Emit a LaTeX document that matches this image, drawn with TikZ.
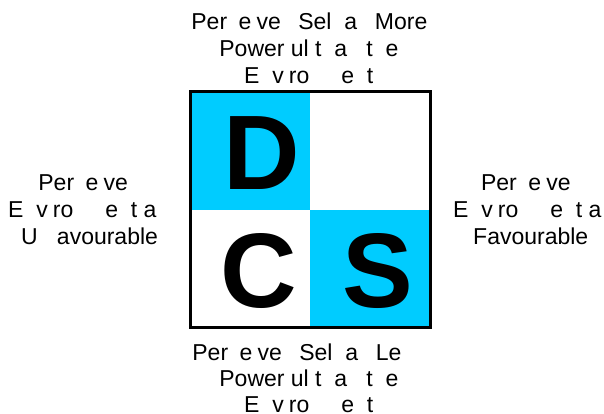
\documentclass[tikz,border=0pt]{standalone}
\usepackage{fontspec}
\setmainfont{Liberation Sans}
\newcommand\gp[1]{\phantom{#1}}
\definecolor{dcyan}{RGB}{0,204,255}
\tikzset{
  lbl/.style={font=\fontsize{23}{27}\selectfont, inner sep=0pt, anchor=base west},
  big/.style={font=\fontsize{106}{110}\selectfont\bfseries, inner sep=0pt, anchor=center},
}
\begin{document}
\begin{tikzpicture}[x=1pt,y=-1pt]
\useasboundingbox (0,0) rectangle (604,414);
% quadrants
\fill[dcyan] (190,92) rectangle (310,209.5);
\fill[dcyan] (310,209.5) rectangle (430,327);
\node[draw, line width=3pt, minimum width=240pt, minimum height=235pt, inner sep=0pt] (sq) at (310,209.5) {};
% letters
\node[big] (D) at (262,153) {D};
\node[big] (C) at (259,271) {C};
\node[big] (S) at (378,271) {S};
% top
\node[lbl] (t1) at (191.2,30) {Per\gp{c}e\gp{i}ve\hspace{11pt} Sel\gp{f} a\gp{s} More};
\node[lbl] (t2) at (219.2,57) {Power\gp{f}ul t\gp{h}a\gp{n} t\gp{h}e};
\node[lbl] (t3) at (244,84) {E\gp{n}v\gp{i}ro\gp{nm}e\gp{n}t};
% left
\node[lbl] (l1) at (38.2,190.5) {Per\gp{c}e\gp{i}ve};
\node[lbl] (l2) at (8,217.5) {E\gp{n}v\gp{i}ro\gp{nm}e\gp{n}t a\gp{s}};
\node[lbl] (l3) at (21,244.5) {U\gp{nf}avourable};
% right
\node[lbl] (r1) at (480.9,190.5) {Per\gp{c}e\gp{i}ve};
\node[lbl] (r2) at (453,217.5) {E\gp{n}v\gp{i}ro\gp{nm}e\gp{n}t a\gp{s}};
\node[lbl] (r3) at (473,244.5) {Favourable};
% bottom
\node[lbl] (b1) at (192.2,360) {Per\gp{c}e\gp{i}ve\hspace{11pt} Sel\gp{f} a\gp{s} Le\gp{ss}};
\node[lbl] (b2) at (219.2,386.5) {Power\gp{f}ul t\gp{h}a\gp{n} t\gp{h}e};
\node[lbl] (b3) at (244,412.5) {E\gp{n}v\gp{i}ro\gp{nm}e\gp{n}t};
\end{tikzpicture}
\end{document}
